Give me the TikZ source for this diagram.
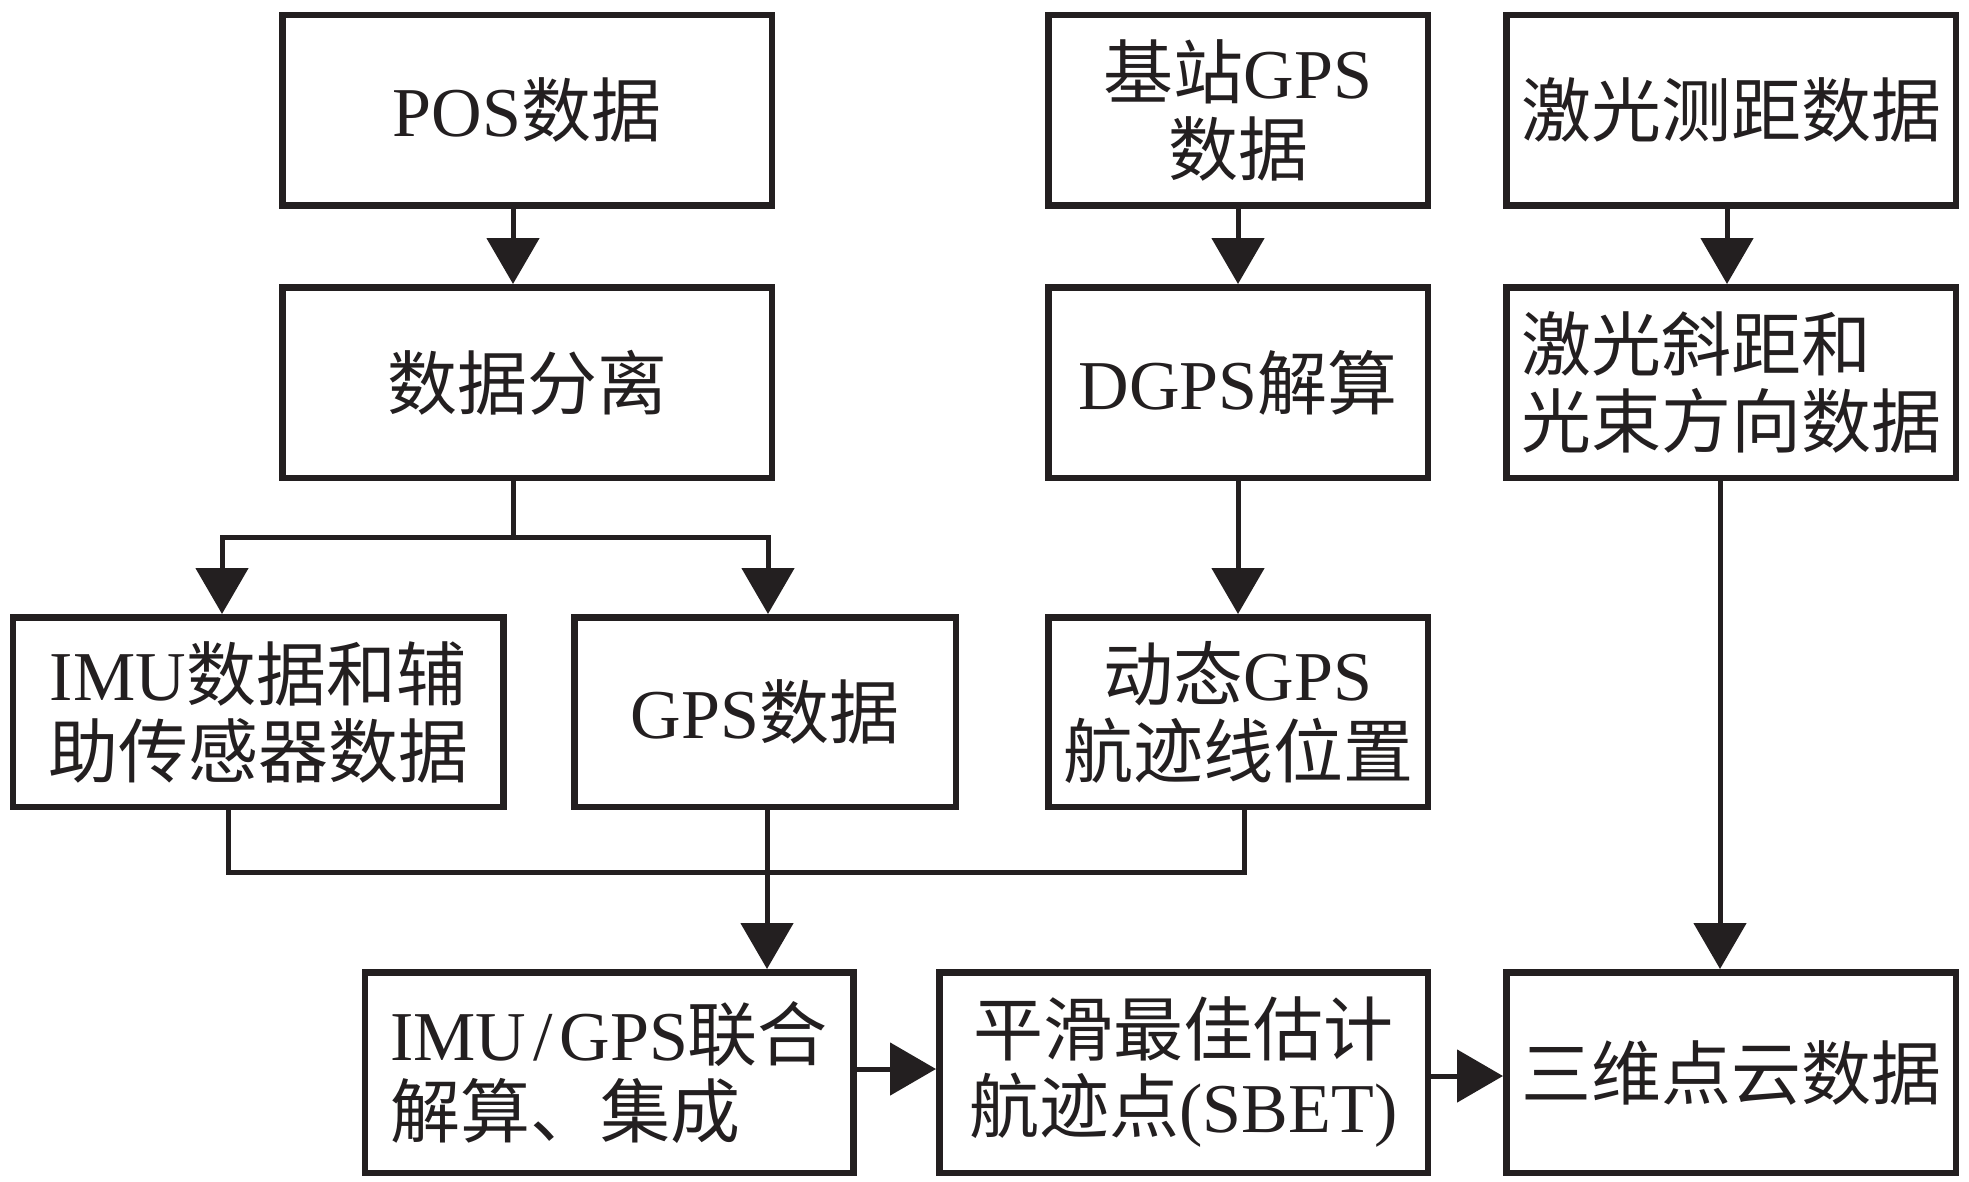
\documentclass[tikz,border=0pt]{standalone}
\usepackage{fontspec}
\setmainfont{Liberation Serif}
\newfontfamily\cjkfont{Noto Sans CJK SC}
\newcommand\zhtext[1]{{\cjkfont #1}}
\usetikzlibrary{arrows.meta}
\definecolor{ink}{HTML}{231F20}
\begin{document}
\begin{tikzpicture}[x=1pt,y=-1pt,
  box/.style={draw=ink,line width=6.5pt,inner sep=0pt,align=center,text=ink,
    font=\fontsize{70}{77}\selectfont},
  bx/.style 2 args={box,minimum width=#1pt,minimum height=#2pt},
  conn/.style={draw=ink,line width=5pt,line join=miter},
  arr/.style={conn,-{Triangle[length=46pt,width=52pt]}}]
\useasboundingbox[fill=white] (0,0) rectangle (1969,1181);
% row 1
\node[bx={489.5}{190.5}] (pos) at (527,110) {POS\zhtext{数据}};
\node[bx={379.5}{190.5}] (base) at (1238,110) {\zhtext{基站}GPS\\\zhtext{数据}};
\node[bx={449.5}{190.5}] (laser) at (1731,110) {\zhtext{激光测距数据}};
% row 2
\node[bx={489.5}{190.5}] (sep) at (527,382.5) {\zhtext{数据分离}};
\node[bx={379.5}{190.5}] (dgps) at (1238,382.5) {DGPS\zhtext{解算}};
\node[bx={449.5}{190.5},align=left] (ls) at (1731,382.5) {\zhtext{激光斜距和}\\\zhtext{光束方向数据}};
% row 3
\node[bx={490.5}{189.5}] (imu) at (258,712) {IMU\zhtext{数据和辅}\\\zhtext{助传感器数据}};
\node[bx={381.5}{189.5}] (gps) at (765,712) {GPS\zhtext{数据}};
\node[bx={379.5}{189.5}] (dyn) at (1238,712) {\zhtext{动态}GPS\\\zhtext{航迹线位置}};
% row 4
\node[bx={488.5}{200.5},align=left] (ig) at (609,1072.5) {IMU\kern7pt/\kern7pt GPS\zhtext{联合}\\\zhtext{解算、集成}};
\node[bx={488.5}{200.5}] (sm) at (1183.5,1072.5) {\zhtext{平滑最佳估计}\\\zhtext{航迹点}(SBET)};
\node[bx={449.5}{200.5}] (pc) at (1731,1072.5) {\zhtext{三维点云数据}};
% connectors
\coordinate (split) at (513,537);
\coordinate (join) at (767,872);
\draw[arr] ([xshift=-14pt]pos.south) -- ([xshift=-14pt]sep.north);
\draw[conn] ([xshift=-14pt]sep.south) -- (split);
\draw[arr] (split) -| ([xshift=-36pt]imu.north);
\draw[arr] (split) -| ([xshift=3pt]gps.north);
\draw[arr] (base.south) -- (dgps.north);
\draw[arr] (dgps.south) -- (dyn.north);
\draw[arr] ([xshift=-4pt]laser.south) -- ([xshift=-4pt]ls.north);
\draw[arr] ([xshift=-11pt]ls.south) -- ([xshift=-11pt]pc.north);
\draw[conn] ([xshift=-30pt]imu.south) |- (join) -| ([xshift=6pt]dyn.south);
\draw[arr] ([xshift=2pt]gps.south) -- ([xshift=2pt]gps.south |- ig.north);
\draw[arr] ([yshift=3.5pt]ig.east) -- ([yshift=3.5pt]sm.west);
\draw[arr] ([yshift=-3.5pt]sm.east) -- ([yshift=-3.5pt]pc.west);
\end{tikzpicture}
\end{document}
